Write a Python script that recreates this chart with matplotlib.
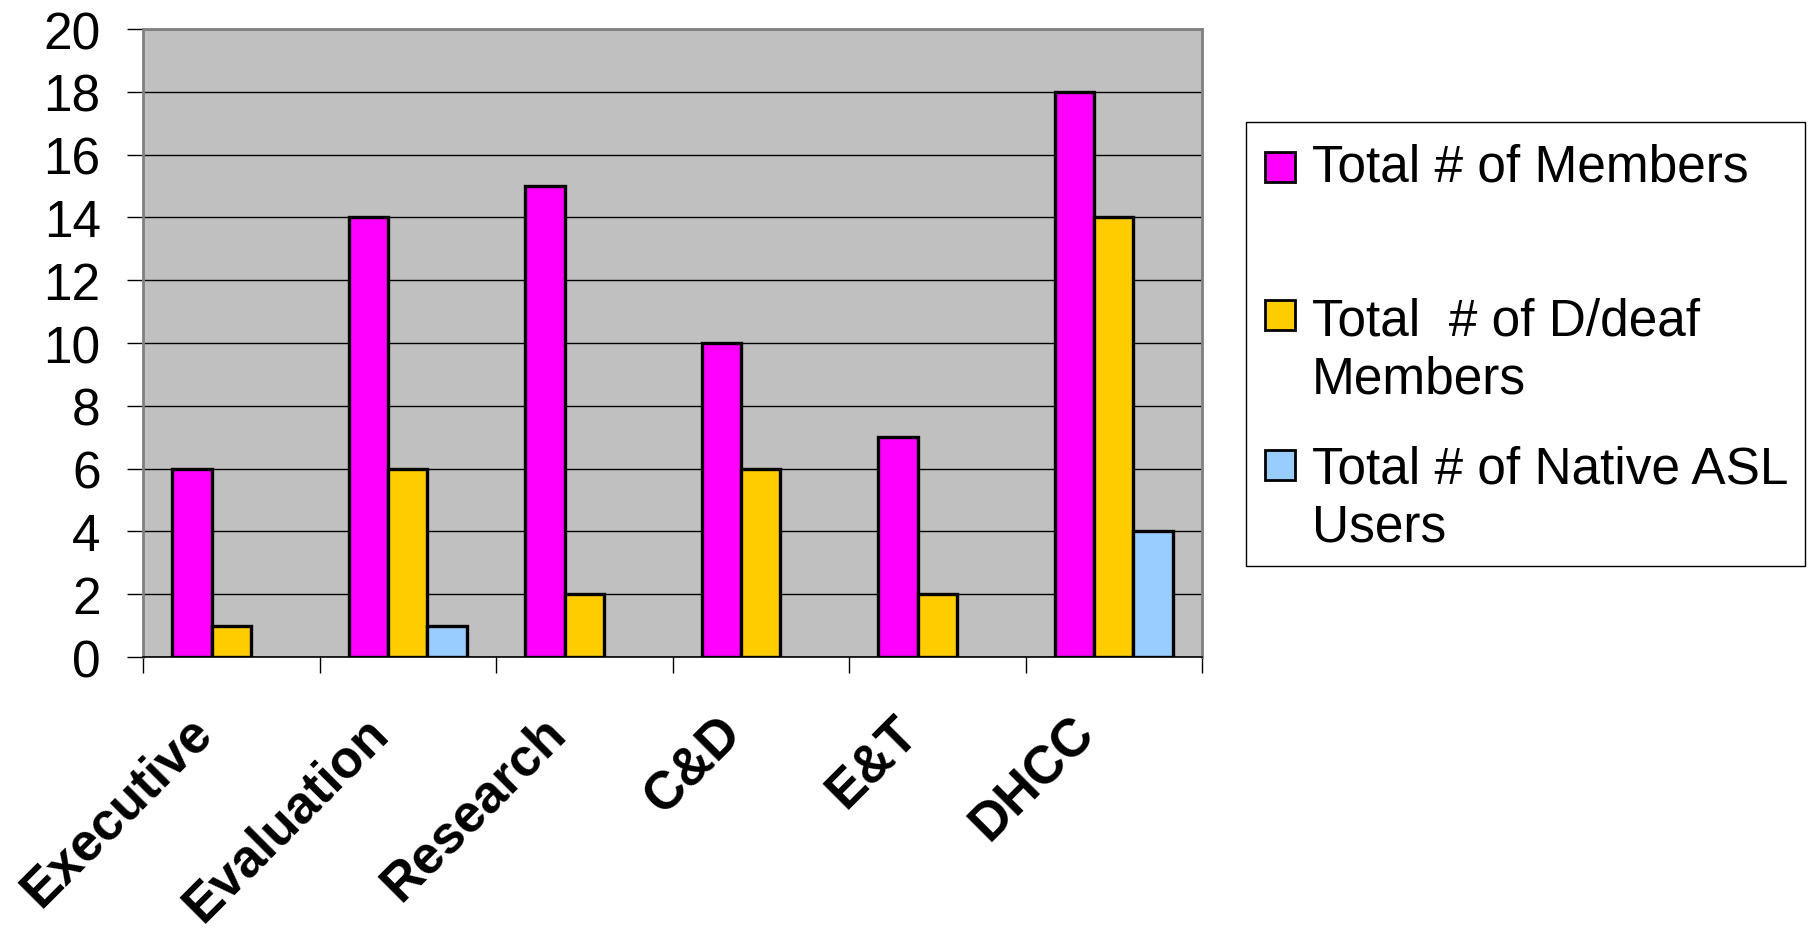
import numpy as np
import matplotlib
matplotlib.use("Agg")
import matplotlib.pyplot as plt
from matplotlib.patches import Rectangle
from matplotlib.transforms import ScaledTranslation

# committee membership counts
groups = ["Executive", "Evaluation", "Research", "C&D", "E&T", "DHCC"]
series_names = ["Total # of Members", "Total  # of D/deaf\nMembers", "Total # of Native ASL\nUsers"]
total_members = [6, 14, 15, 10, 7, 18]
deaf_members = [1, 6, 2, 6, 2, 14]
native_asl = [0, 1, 0, 0, 0, 4]
colors = ["#FF00FF", "#FFCC00", "#99CCFF"]
yticks = list(range(0, 21, 2))

plt.rcParams["font.family"] = ["Liberation Sans", "DejaVu Sans"]

W, H = 1814, 929
fig = plt.figure(figsize=(W / 100, H / 100), dpi=100)
ax = fig.add_axes([143 / W, 1 - 658 / H, (1202 - 143) / W, (658 - 30) / H])
ax.set_facecolor("#C0C0C0")

x = np.arange(len(groups))
w = 1 / 4.5
for k, vals in enumerate([total_members, deaf_members, native_asl]):
    vals = np.array(vals, dtype=float)
    keep = vals > 0
    ax.bar(x[keep] + (k - 1) * w, vals[keep], w, color=colors[k],
           edgecolor="black", linewidth=2.4, zorder=3)

ax.set_xlim(-0.5, len(groups) - 0.5)
ax.set_ylim(0, 20)
ax.set_yticks(yticks)
ax.set_yticklabels([str(t) for t in yticks], fontsize=37)
ax.yaxis.grid(True, color="black", linewidth=1.0, zorder=1)
ax.set_axisbelow(True)
ax.tick_params(axis="y", direction="out", length=11.5, width=1, pad=19, colors="black")

ax.set_xticks(np.arange(len(groups) + 1) - 0.5)
ax.set_xticklabels([])
ax.tick_params(axis="x", direction="out", length=11.5, width=1)

for s in ["left", "top", "right"]:
    ax.spines[s].set_color("#808080")
    ax.spines[s].set_linewidth(2)
ax.spines["bottom"].set_color("black")
ax.spines["bottom"].set_linewidth(1.2)

# rotated category labels under each group
off = ScaledTranslation(-17 / 100, -77 / 100, fig.dpi_scale_trans)
for i, g in enumerate(groups):
    ax.text(i, 0, g, transform=ax.get_xaxis_transform() + off, rotation=45,
            rotation_mode="anchor", ha="right", va="baseline",
            fontsize=38, fontweight="bold")

# legend box on the right
fig.patches.append(Rectangle((1246 / W, 1 - 567 / H), (1805 - 1246) / W, (567 - 123) / H,
                             transform=fig.transFigure, facecolor="white",
                             edgecolor="black", linewidth=1))
marker_y = [168, 316, 466]
baselines = [[182], [335, 393], [484, 542]]
for k, name in enumerate(series_names):
    fig.patches.append(Rectangle((1265 / W, 1 - (marker_y[k] + 15) / H), 30 / W, 30 / H,
                                 transform=fig.transFigure, facecolor=colors[k],
                                 edgecolor="black", linewidth=2))
    for line, yb in zip(name.split("\n"), baselines[k]):
        fig.text(1312 / W, 1 - yb / H, line, fontsize=37, ha="left", va="baseline")

fig.savefig("out.png", dpi=100)
